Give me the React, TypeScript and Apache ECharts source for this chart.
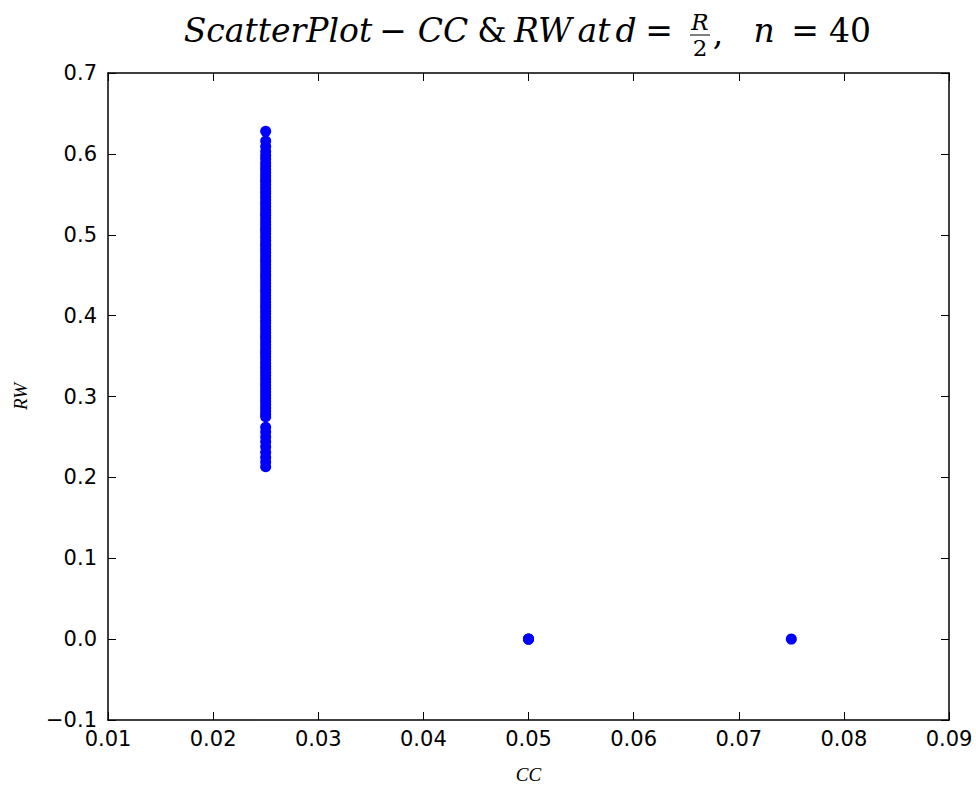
import React, { useEffect, useRef } from "react";
import * as echarts from "echarts";

// CC values of the three groups of points
const ccValues = [0.025, 0.05, 0.075];

// RW values read for CC = 0.025
const rwAtCC025 = [
  0.628, 0.616, 0.609, 0.603, 0.598, 0.594, 0.589, 0.585, 0.581, 0.577,
  0.573, 0.569, 0.566, 0.562, 0.558, 0.554, 0.551, 0.547, 0.543, 0.539,
  0.535, 0.531, 0.527, 0.524, 0.520, 0.516, 0.512, 0.508, 0.505, 0.501,
  0.497, 0.493, 0.489, 0.486, 0.482, 0.478, 0.474, 0.470, 0.467, 0.463,
  0.459, 0.455, 0.451, 0.448, 0.444, 0.440, 0.436, 0.432, 0.429, 0.425,
  0.421, 0.417, 0.413, 0.410, 0.406, 0.402, 0.398, 0.394, 0.391, 0.387,
  0.383, 0.379, 0.375, 0.372, 0.368, 0.364, 0.360, 0.356, 0.353, 0.349,
  0.345, 0.341, 0.337, 0.334, 0.330, 0.326, 0.322, 0.318, 0.314, 0.310,
  0.306, 0.302, 0.298, 0.294, 0.290, 0.286, 0.282, 0.278, 0.275,
  0.262, 0.256, 0.250, 0.244, 0.238, 0.231, 0.225, 0.219, 0.213,
];
// RW values read for CC = 0.05
const rwAtCC050 = [0.0, 0.0, 0.0];
// RW values read for CC = 0.075
const rwAtCC075 = [0.0];

const xTicks = { min: 0.01, max: 0.09, interval: 0.01 };
const yTicks = { min: -0.1, max: 0.7, interval: 0.1 };

// title pieces: [text, italic]
const titleTokens: [string, boolean][] = [
  ["ScatterPlot", true],
  ["\u2212", false],
  ["CC", true],
  ["&", false],
  ["RW", true],
  ["at", true],
  ["d", true],
  ["=", false],
  [",", false],
  ["n", true],
  ["=", false],
  ["40", false],
];
const titleCenters = [278, 393, 443, 492, 543, 594, 626, 659, 718, 764, 805, 850];

const fmtY = (v: number) => {
  const r = Math.round(v * 10) / 10;
  return r < 0 ? "\u2212" + Math.abs(r).toFixed(1) : r.toFixed(1);
};
const fmtX = (v: number) => (Math.round(v * 100) / 100).toFixed(2);

export default function App() {
  const ref = useRef<HTMLDivElement>(null);
  useEffect(() => {
    if (!ref.current) return;
    const chart = echarts.init(ref.current, undefined, { renderer: "svg" });
    const data: number[][] = [];
    rwAtCC025.forEach((y) => data.push([ccValues[0], y]));
    rwAtCC050.forEach((y) => data.push([ccValues[1], y]));
    rwAtCC075.forEach((y) => data.push([ccValues[2], y]));

    const serif = "'DejaVu Serif', 'Liberation Serif', serif";
    const sans = "'DejaVu Sans', sans-serif";
    const axisLine = { show: true, onZero: false, lineStyle: { color: "#000", width: 1.5 } };
    const tick = { show: true, inside: true, length: 8, lineStyle: { color: "#000", width: 1 } };

    const titleFont = 33;
    const titleY = 30;
    const titleGraphics: any[] = titleTokens.map(([t, it], i) => ({
      type: "text",
      x: titleCenters[i],
      y: t === "," ? titleY + 3 : titleY,
      style: {
        text: t,
        fontFamily: serif,
        fontStyle: it ? "italic" : "normal",
        fontSize: titleFont,
        fill: "#000",
        align: "center",
        verticalAlign: "middle",
      },
    }));
    const fracX = 700;
    titleGraphics.push(
      {
        type: "text",
        x: fracX,
        y: 22,
        style: {
          text: "R",
          fontFamily: serif,
          fontStyle: "italic",
          fontSize: 23,
          fill: "#000",
          align: "center",
          verticalAlign: "middle",
        },
      },
      {
        type: "line",
        shape: { x1: fracX - 10, y1: 35, x2: fracX + 10, y2: 35 },
        style: { stroke: "#000", lineWidth: 1 },
      },
      {
        type: "text",
        x: fracX,
        y: 48,
        style: {
          text: "2",
          fontFamily: serif,
          fontSize: 23,
          fill: "#000",
          align: "center",
          verticalAlign: "middle",
        },
      }
    );

    chart.setOption({
      animation: false,
      backgroundColor: "#fff",
      grid: { left: 108, right: 27, top: 73, bottom: 66, containLabel: false },
      xAxis: [
        {
          type: "value",
          min: xTicks.min,
          max: xTicks.max,
          interval: xTicks.interval,
          position: "bottom",
          axisLine,
          axisTick: tick,
          splitLine: { show: false },
          axisLabel: { formatter: fmtX, color: "#000", fontFamily: sans, fontSize: 21, margin: 8 },
          name: "CC",
          nameLocation: "middle",
          nameGap: 45,
          nameTextStyle: { fontFamily: "'Liberation Serif', serif", fontStyle: "italic", fontSize: 19, color: "#000" },
        },
        {
          type: "value",
          min: xTicks.min,
          max: xTicks.max,
          interval: xTicks.interval,
          position: "top",
          axisLine,
          axisTick: tick,
          splitLine: { show: false },
          axisLabel: { show: false },
        },
      ],
      yAxis: [
        {
          type: "value",
          min: yTicks.min,
          max: yTicks.max,
          interval: yTicks.interval,
          position: "left",
          axisLine,
          axisTick: tick,
          splitLine: { show: false },
          axisLabel: { formatter: fmtY, color: "#000", fontFamily: sans, fontSize: 21, margin: 11 },
          name: "RW",
          nameLocation: "middle",
          nameGap: 78,
          nameRotate: 90,
          nameTextStyle: { fontFamily: "'Liberation Serif', serif", fontStyle: "italic", fontSize: 19, color: "#000" },
        },
        {
          type: "value",
          min: yTicks.min,
          max: yTicks.max,
          interval: yTicks.interval,
          position: "right",
          axisLine,
          axisTick: tick,
          splitLine: { show: false },
          axisLabel: { show: false },
        },
      ],
      series: [
        {
          type: "scatter",
          xAxisIndex: 0,
          yAxisIndex: 0,
          data,
          symbol: "circle",
          symbolSize: 11,
          itemStyle: { color: "#0000ff", opacity: 1 },
        },
      ],
      graphic: titleGraphics,
    });
    return () => chart.dispose();
  }, []);
  return <div ref={ref} style={{ width: 976, height: 789, position: "absolute", left: 0, top: 0 }} />;
}
